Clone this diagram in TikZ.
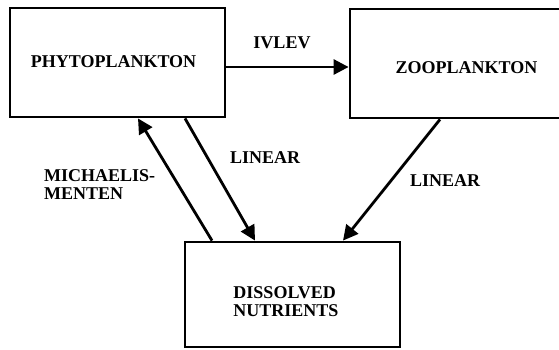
\documentclass[tikz,border=0pt]{standalone}
\usepackage{fontspec}
\setmainfont{Liberation Serif}
\usetikzlibrary{arrows.meta}
\begin{document}
\begin{tikzpicture}[x=1pt,y=1pt,
  box/.style={draw=black,line width=2.8pt,rectangle,inner sep=0pt},
  lbl/.style={font=\fontsize{18}{18}\selectfont\bfseries,inner sep=0pt,align=left},
  conn/.style={line width=2.8pt,-{Triangle[length=15pt,width=15pt]}}]
\useasboundingbox (0,0) rectangle (559,-349);
\fill[white] (0,0) rectangle (559,-349);
\node[box,minimum width=215pt,minimum height=109pt] (phyto) at (117.5,-62.5) {};
\node[box,minimum width=233pt,minimum height=109pt] (zoo) at (466.5,-63.5) {};
\node[box,minimum width=215pt,minimum height=105pt] (diss) at (292.5,-294.5) {};
\node[lbl] (tphyto) at (113.5,-62) {PHYTOPLANKTON};
\node[lbl] (tzoo) at (466.5,-68) {ZOOPLANKTON};
\node[lbl] (tdiss) at (286,-302) {DISSOLVED\\[0pt]NUTRIENTS};
\node[lbl] (livlev) at (282,-43) {IVLEV};
\node[lbl,anchor=west] (llin1) at (230,-158) {LINEAR};
\node[lbl,anchor=west] (llin2) at (410,-181) {LINEAR};
\node[lbl,anchor=west] (lmm) at (44,-184.5) {MICHAELIS-\\[0pt]MENTEN};
\draw[conn] ([yshift=-4.5pt]phyto.east) -- ([yshift=-3.5pt]zoo.west);
\draw[conn] ([xshift=67.5pt]phyto.south) -- ([xshift=-37.5pt]diss.north);
\draw[conn] ([xshift=-80.5pt]diss.north) -- ([xshift=20.5pt]phyto.south);
\draw[conn] ([xshift=-26.5pt]zoo.south) -- ([xshift=50.5pt]diss.north);
\end{tikzpicture}
\end{document}
